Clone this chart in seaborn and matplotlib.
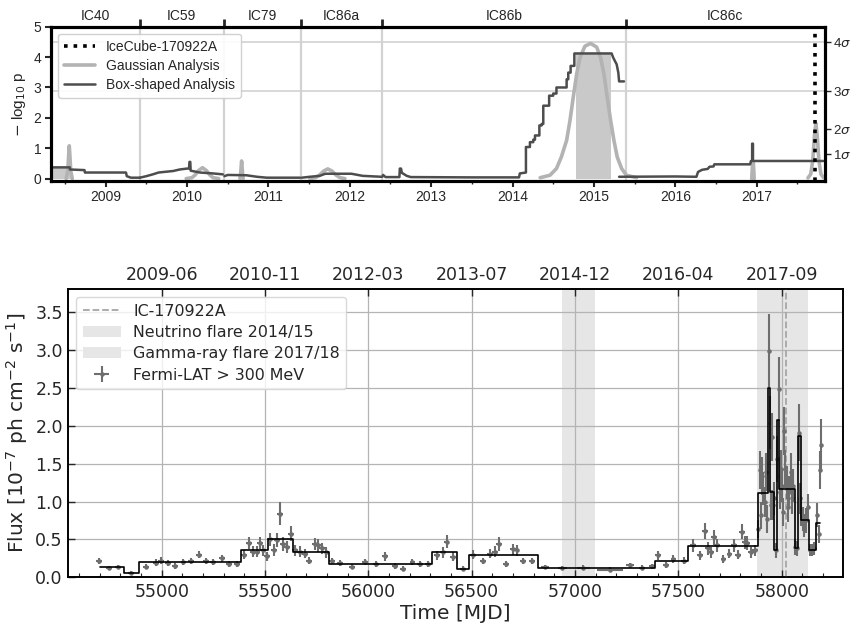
"""
Two-panel light curve: IceCube time-dependent p-values (top)
and Fermi-LAT > 300 MeV flux with Bayesian blocks (bottom).
"""
import matplotlib
matplotlib.use("Agg")
import matplotlib.pyplot as plt
from matplotlib.lines import Line2D
from matplotlib.patches import Patch
import numpy as np
import pandas as pd
import seaborn as sns

nan = np.nan

# ---------------------------------------------------------------------------
# Top panel data (time in decimal years)
# ---------------------------------------------------------------------------
season_edges = [2008.328, 2009.42, 2010.45, 2011.40, 2012.40, 2015.39, 2017.84]
season_names = ["IC40", "IC59", "IC79", "IC86a", "IC86b", "IC86c"]
year_ticks = [2009, 2010, 2011, 2012, 2013, 2014, 2015, 2016, 2017]
sigma_levels = [0.80, 1.64, 2.87, 4.50]
sigma_labels = [r"1$\sigma$", r"2$\sigma$", r"3$\sigma$", r"4$\sigma$"]
ic170922_year = 2017.722

# box-shaped analysis, one season per row, NaN breaks between seasons
box_t = [
    2008.33, 2008.56, 2008.56, 2008.74, 2008.745, 2009.25, 2009.26, 2009.31, 2009.42, nan,
    2009.42, 2009.50, 2009.58, 2009.65, 2009.72, 2009.83, 2009.91, 2010.00, 2010.025,
    2010.03, 2010.04, 2010.045, 2010.16, 2010.32, 2010.44, nan,
    2010.46, 2010.50, 2010.73, 2010.86, 2010.98, 2011.39, nan,
    2011.41, 2011.51, 2011.63, 2011.70, 2012.02, 2012.10, 2012.16, 2012.39, nan,
    2012.40, 2012.41, 2012.44, 2012.61, 2012.615, 2012.63, 2012.64, 2012.70, 2012.75,
    2013.50, 2014.08, 2014.09, 2014.165, 2014.165, 2014.214, 2014.214, 2014.255, 2014.255,
    2014.276, 2014.276, 2014.33, 2014.33, 2014.358, 2014.358, 2014.378, 2014.378,
    2014.45, 2014.45, 2014.50, 2014.50, 2014.54, 2014.54, 2014.665, 2014.665,
    2014.685, 2014.685, 2014.714, 2014.714, 2014.76, 2014.76, 2015.218, 2015.238,
    2015.28, 2015.30, 2015.31, 2015.37, nan,
    2015.31, 2016.00, 2016.26, 2016.28, 2016.33, 2016.40, 2016.42, 2016.47, 2016.48,
    2016.92, 2016.93, 2016.945, 2016.945, 2016.955, 2016.955, 2017.82,
]
box_v = [
    0.37, 0.37, 0.30, 0.28, 0.20, 0.20, 0.08, 0.03, 0.03, nan,
    0.03, 0.08, 0.14, 0.20, 0.22, 0.25, 0.30, 0.33, 0.33,
    0.55, 0.55, 0.26, 0.20, 0.17, 0.14, nan,
    0.08, 0.12, 0.11, 0.06, 0.03, 0.03, nan,
    0.03, 0.06, 0.09, 0.16, 0.16, 0.12, 0.09, 0.06, nan,
    0.06, 0.12, 0.05, 0.05, 0.33, 0.33, 0.19, 0.09, 0.05,
    0.04, 0.04, 0.17, 0.20, 1.04, 1.04, 1.20, 1.20, 1.28,
    1.28, 1.42, 1.42, 1.75, 1.75, 1.80, 1.80, 2.40,
    2.40, 2.73, 2.73, 2.80, 2.80, 3.00, 3.00, 3.27,
    3.27, 3.49, 3.49, 3.71, 3.71, 4.12, 4.12, 3.98,
    3.76, 3.49, 3.20, 3.20, nan,
    0.06, 0.07, 0.06, 0.22, 0.29, 0.32, 0.39, 0.40, 0.47,
    0.47, 0.58, 0.58, 1.15, 1.15, 0.58, 0.58,
]

# gaussian analysis, one flare curve per row
gauss_t = [
    2008.515, 2008.535, 2008.545, 2008.553, 2008.561, 2008.571, 2008.59, nan,
    2009.99, 2010.06, 2010.10, 2010.14, 2010.19, 2010.24, 2010.28, 2010.32, 2010.39, nan,
    2010.65, 2010.66, 2010.667, 2010.671, 2010.675, 2010.682, 2010.69, nan,
    2011.51, 2011.58, 2011.63, 2011.68, 2011.73, 2011.78, 2011.83, 2011.88, 2011.94, nan,
    2014.34, 2014.46, 2014.54, 2014.60, 2014.665, 2014.706, 2014.746, 2014.788, 2014.829,
    2014.89, 2014.96, 2015.034, 2015.083, 2015.124, 2015.164, 2015.206, 2015.246,
    2015.287, 2015.341, 2015.40, 2015.525, nan,
    2016.94, 2016.95, 2016.96, 2016.97, nan,
    2017.63, 2017.665, 2017.69, 2017.71, 2017.728, 2017.745, 2017.765, 2017.79, 2017.825,
]
gauss_v = [
    0.0, 0.25, 0.75, 1.08, 0.75, 0.25, 0.0, nan,
    0.0, 0.03, 0.12, 0.26, 0.36, 0.26, 0.12, 0.03, 0.0, nan,
    0.0, 0.2, 0.45, 0.58, 0.45, 0.2, 0.0, nan,
    0.0, 0.03, 0.12, 0.25, 0.32, 0.25, 0.12, 0.03, 0.0, nan,
    0.03, 0.11, 0.33, 0.71, 1.26, 1.91, 2.67, 3.44, 3.98,
    4.36, 4.45, 4.33, 3.98, 3.44, 2.67, 1.91, 1.26,
    0.71, 0.33, 0.11, 0.03, nan,
    0.0, 0.52, 0.52, 0.0, nan,
    0.02, 0.15, 0.6, 1.4, 1.82, 1.4, 0.6, 0.15, 0.02,
]

# shaded best-fit box windows
box_fill_start = [2008.33, 2014.776]
box_fill_end = [2008.57, 2015.206]
box_fill_height = [0.37, 4.12]

# ---------------------------------------------------------------------------
# Bottom panel data (time in MJD)
# ---------------------------------------------------------------------------
mjd_ticks = [55000, 55500, 56000, 56500, 57000, 57500, 58000]
date_labels = ["2009-06", "2010-11", "2012-03", "2013-07", "2014-12", "2016-04", "2017-09"]
ic170922_mjd = 58018.87
nu_flare = [56937.8, 57096.2]
gamma_flare = [57882, 58126]

fermi_mjd = [
    54698, 54745, 54787, 54851, 54925, 54972, 54995, 55029, 55064, 55105,
    55140, 55181, 55214, 55250, 55290, 55327, 55366, 55400, 55424, 55443,
    55460, 55476, 55489, 55508, 55524, 55543, 55556, 55572, 55588, 55605,
    55626, 55645, 55669, 55693, 55711, 55742, 55755, 55774, 55795, 55823,
    55863, 55919, 55984, 56037, 56081, 56129, 56169, 56213, 56250, 56290,
    56331, 56360, 56378, 56408, 56457, 56508, 56553, 56589, 56613, 56632,
    56666, 56701, 56717, 56750, 56790, 56855, 56939, 57040, 57169, 57266,
    57323, 57371, 57403, 57440, 57476, 57529, 57570, 57605, 57629, 57645,
    57657, 57673, 57686, 57718, 57747, 57769, 57787, 57807, 57823, 57834,
    57852, 57871,
    57885, 57895, 57900, 57904, 57911, 57918, 57924, 57930, 57937, 57943,
    57949, 57953, 57958, 57964, 57971, 57979, 57986, 57990, 57994, 57999,
    58003, 58008, 58013, 58018, 58025, 58031, 58037, 58044, 58050, 58056,
    58066, 58076, 58084, 58088, 58095, 58102, 58110, 58117, 58126, 58136,
    58146, 58155, 58170, 58180, 58186, 58189,
]
fermi_flux = [
    0.21, 0.12, 0.135, 0.057, 0.14, 0.195, 0.22, 0.19, 0.155, 0.20,
    0.22, 0.30, 0.21, 0.20, 0.25, 0.18, 0.17, 0.30, 0.45, 0.34,
    0.34, 0.45, 0.355, 0.28, 0.50, 0.36, 0.49, 0.84, 0.44, 0.40,
    0.575, 0.355, 0.34, 0.31, 0.22, 0.44, 0.42, 0.38, 0.33, 0.21,
    0.19, 0.14, 0.20, 0.18, 0.28, 0.145, 0.114, 0.20, 0.17, 0.18,
    0.29, 0.33, 0.47, 0.27, 0.114, 0.30, 0.21, 0.31, 0.34, 0.44,
    0.17, 0.37, 0.355, 0.22, 0.21, 0.135, 0.12, 0.127, 0.10, 0.157,
    0.127, 0.145, 0.29, 0.157, 0.245, 0.22, 0.42, 0.29, 0.61, 0.38,
    0.33, 0.53, 0.42, 0.245, 0.31, 0.42, 0.30, 0.60, 0.46, 0.455,
    0.33, 0.355,
    0.64, 1.41, 0.82, 1.34, 1.17, 0.99, 1.39, 0.77, 2.99, 2.04,
    0.95, 1.85, 0.95, 1.04, 0.355, 1.56, 2.48, 1.34, 1.12, 1.43,
    1.21, 0.86, 1.93, 1.43, 1.25, 0.925, 1.12, 1.39, 1.04, 1.21,
    0.40, 0.38, 1.91, 1.04, 0.86, 0.77, 0.68, 0.75, 0.925, 0.355,
    0.355, 0.38, 0.82, 0.575, 1.41, 1.74,
]
fermi_err = [
    0.04, 0.03, 0.03, 0.02, 0.03, 0.04, 0.05, 0.04, 0.04, 0.04,
    0.04, 0.05, 0.04, 0.04, 0.05, 0.04, 0.04, 0.06, 0.08, 0.07,
    0.07, 0.08, 0.07, 0.06, 0.09, 0.08, 0.09, 0.15, 0.09, 0.08,
    0.10, 0.07, 0.07, 0.06, 0.05, 0.08, 0.08, 0.07, 0.07, 0.04,
    0.04, 0.03, 0.04, 0.04, 0.06, 0.04, 0.03, 0.04, 0.04, 0.04,
    0.06, 0.07, 0.09, 0.06, 0.03, 0.06, 0.04, 0.06, 0.07, 0.09,
    0.04, 0.07, 0.07, 0.04, 0.04, 0.03, 0.03, 0.03, 0.03, 0.03,
    0.03, 0.03, 0.06, 0.04, 0.05, 0.05, 0.08, 0.06, 0.10, 0.08,
    0.07, 0.10, 0.08, 0.05, 0.06, 0.08, 0.06, 0.10, 0.09, 0.09,
    0.07, 0.07,
    0.12, 0.25, 0.18, 0.25, 0.22, 0.20, 0.25, 0.18, 0.48, 0.35,
    0.20, 0.32, 0.20, 0.22, 0.10, 0.30, 0.42, 0.25, 0.22, 0.25,
    0.22, 0.18, 0.32, 0.25, 0.22, 0.20, 0.22, 0.25, 0.20, 0.22,
    0.10, 0.10, 0.38, 0.20, 0.18, 0.16, 0.15, 0.16, 0.18, 0.08,
    0.08, 0.09, 0.16, 0.12, 0.25, 0.35,
]
fermi_xerr = [
    14, 14, 14, 14, 14, 14, 14, 14, 14, 14,
    14, 14, 14, 14, 14, 14, 14, 14, 14, 14,
    14, 14, 14, 14, 14, 14, 14, 14, 14, 14,
    14, 14, 14, 14, 14, 14, 14, 14, 14, 14,
    14, 14, 14, 14, 14, 14, 14, 14, 14, 14,
    14, 14, 14, 14, 14, 14, 14, 14, 14, 14,
    14, 14, 14, 14, 14, 20, 20, 30, 65, 20,
    14, 14, 14, 14, 14, 14, 14, 14, 14, 14,
    14, 14, 14, 14, 14, 14, 14, 14, 14, 14,
    14, 14,
    3.5, 3.5, 3.5, 3.5, 3.5, 3.5, 3.5, 3.5, 3.5, 3.5,
    3.5, 3.5, 3.5, 3.5, 3.5, 3.5, 3.5, 3.5, 3.5, 3.5,
    3.5, 3.5, 3.5, 3.5, 3.5, 3.5, 3.5, 3.5, 3.5, 3.5,
    3.5, 3.5, 3.5, 3.5, 3.5, 3.5, 3.5, 3.5, 3.5, 3.5,
    3.5, 3.5, 3.5, 3.5, 3.5, 3.5,
]

# Bayesian blocks
block_edges = [
    54701, 54818, 54892, 55382, 55516, 55637, 55811, 56307, 56428, 56487,
    56822, 57387, 57548, 57887, 57935, 57944, 57964, 57976, 57987, 58065,
    58081, 58092, 58133, 58166, 58185,
]
block_flux = [
    0.13, 0.057, 0.20, 0.355, 0.51, 0.34, 0.18, 0.33, 0.114, 0.29,
    0.127, 0.22, 0.41, 1.11, 2.50, 1.13, 0.355, 2.07, 1.17, 0.38,
    1.86, 0.76, 0.355, 0.71,
]

# ---------------------------------------------------------------------------
# Style
# ---------------------------------------------------------------------------
sns.set_style("ticks")
plt.rcParams["font.family"] = ["DejaVu Sans"]
TOP_FONT = ["Liberation Sans", "DejaVu Sans"]

BOX_COLOR = "#4d4d4d"
GAUSS_COLOR = "#b3b3b3"
SEASON_COLOR = "#d2d2d2"
FILL_COLOR = "#c9c9c9"
POINT_COLOR = "#6e6e6e"
FLARE_COLOR = "#e6e6e6"
GRID_COLOR = "#b4b4b4"


def _segments(t, v):
    df = pd.DataFrame({"t": t, "v": v})
    df["seg"] = df["t"].isna().cumsum()
    return df.dropna()


fig = plt.figure(figsize=(8.55, 6.26), dpi=100)
ax1 = fig.add_axes([0.0596, 0.7113, 0.9053, 0.2460])
ax2 = fig.add_axes([0.0799, 0.0778, 0.9064, 0.4601])

# ---------------------------------------------------------------------------
# Top panel
# ---------------------------------------------------------------------------
for x in season_edges[1:-1]:
    ax1.axvline(x, color=SEASON_COLOR, lw=1.6, zorder=1)
for lvl in sigma_levels[2:]:
    ax1.axhline(lvl, color=SEASON_COLOR, lw=1.2, zorder=1)

for x0, x1, h in zip(box_fill_start, box_fill_end, box_fill_height):
    ax1.fill_between([x0, x1], 0, h, color=FILL_COLOR, lw=0, zorder=2)

sns.lineplot(data=_segments(gauss_t, gauss_v), x="t", y="v", units="seg",
             estimator=None, sort=False, color=GAUSS_COLOR, linewidth=2.6,
             legend=False, ax=ax1, zorder=3)
sns.lineplot(data=_segments(box_t, box_v), x="t", y="v", units="seg",
             estimator=None, sort=False, color=BOX_COLOR, linewidth=1.8,
             legend=False, ax=ax1, zorder=4)
ax1.axvline(ic170922_year, color="black", ls=":", lw=2.6, zorder=5)

ax1.set_xlim(season_edges[0], season_edges[-1])
ax1.set_ylim(-0.07, 4.96)
ax1.set_xlabel("")
ax1.set_ylabel(r"$-$ log$_{10}$ p", fontsize=11, fontfamily=TOP_FONT)
ax1.set_xticks(year_ticks, [str(y) for y in year_ticks], fontfamily=TOP_FONT)
ax1.set_xticks(np.arange(2008.5, 2018, 1.0), minor=True)
ax1.set_yticks([0, 1, 2, 3, 4, 5], ["0", "1", "2", "3", "4", "5"], fontfamily=TOP_FONT)
ax1.tick_params(axis="both", which="major", direction="out", length=4, width=1.5,
                labelsize=10, pad=3)
ax1.tick_params(axis="x", which="minor", direction="out", length=2.5, width=1)

ax1r = ax1.twinx()
ax1r.set_ylim(ax1.get_ylim())
ax1r.set_yticks(sigma_levels, sigma_labels, fontfamily=TOP_FONT)
ax1r.tick_params(axis="y", direction="out", length=4, width=1, labelsize=9.5, pad=2)

ax1t = ax1.twiny()
ax1t.set_xlim(ax1.get_xlim())
ax1t.set_xticks(season_edges[1:-1], [""] * (len(season_edges) - 2))
season_mid = [(a + b) / 2 for a, b in zip(season_edges[:-1], season_edges[1:])]
ax1t.set_xticks(season_mid, season_names, minor=True, fontfamily=TOP_FONT)
ax1t.tick_params(axis="x", which="major", direction="out", length=6, width=2)
ax1t.tick_params(axis="x", which="minor", length=0, labelsize=10, pad=3)

for a in (ax1, ax1r, ax1t):
    for sp in a.spines.values():
        sp.set_linewidth(2.2)
        sp.set_color("black")

top_handles = [
    Line2D([], [], color="black", ls=":", lw=2.6),
    Line2D([], [], color=GAUSS_COLOR, lw=2.6),
    Line2D([], [], color=BOX_COLOR, lw=1.8),
]
leg1 = ax1.legend(top_handles, ["IceCube-170922A", "Gaussian Analysis", "Box-shaped Analysis"],
                  loc="upper left", prop={"family": TOP_FONT, "size": 10},
                  frameon=True, framealpha=0.9, edgecolor="#cccccc",
                  handlelength=2.2, labelspacing=0.35, borderpad=0.45)

# ---------------------------------------------------------------------------
# Bottom panel
# ---------------------------------------------------------------------------
ic_line = ax2.axvline(ic170922_mjd, color="#a6a6a6", ls="--", lw=1.3, zorder=3)
nu_span = ax2.axvspan(nu_flare[0], nu_flare[1], color=FLARE_COLOR, lw=0, zorder=0)
gam_span = ax2.axvspan(gamma_flare[0], gamma_flare[1], color=FLARE_COLOR, lw=0, zorder=0)

eb = ax2.errorbar(fermi_mjd, fermi_flux, yerr=fermi_err, xerr=fermi_xerr, fmt=".",
                  color=POINT_COLOR, ms=4.5, elinewidth=1.5, capsize=0, zorder=4)
sns.lineplot(x=block_edges, y=block_flux + [block_flux[-1]], estimator=None,
             drawstyle="steps-post", color="black", linewidth=1.2, ax=ax2, zorder=5)

ax2.set_axisbelow(True)
ax2.grid(True, which="major", color=GRID_COLOR, lw=0.9)
ax2.set_xlim(54548, 58298)
ax2.set_ylim(0, 3.8)
ax2.set_xticks(mjd_ticks, [str(m) for m in mjd_ticks])
ax2.set_xticks(np.arange(54600, 58300, 100), minor=True)
ax2.set_yticks([0, 0.5, 1.0, 1.5, 2.0, 2.5, 3.0, 3.5],
               ["0.0", "0.5", "1.0", "1.5", "2.0", "2.5", "3.0", "3.5"])
ax2.tick_params(axis="both", which="major", direction="in", length=5, width=1,
                labelsize=12.5, pad=4)
ax2.tick_params(axis="x", which="minor", direction="in", length=3, width=0.8)
ax2.set_xlabel("Time [MJD]", fontsize=14.5, labelpad=2)
ax2.set_ylabel(r"Flux [$10^{-7}$ ph cm$^{-2}$ s$^{-1}$]", fontsize=14.5, labelpad=4)

ax2t = ax2.twiny()
ax2t.set_xlim(ax2.get_xlim())
ax2t.set_xticks(mjd_ticks, date_labels)
ax2t.tick_params(axis="x", direction="in", length=5, width=1, labelsize=12.5, pad=4)

for a in (ax2, ax2t):
    for sp in a.spines.values():
        sp.set_linewidth(1.2)
        sp.set_color("black")

bottom_handles = [
    Line2D([], [], color="#a6a6a6", ls="--", lw=1.3),
    Patch(facecolor=FLARE_COLOR, edgecolor="none"),
    Patch(facecolor=FLARE_COLOR, edgecolor="none"),
    eb,
]
ax2.legend(bottom_handles,
           ["IC-170922A", "Neutrino flare 2014/15", "Gamma-ray flare 2017/18",
            "Fermi-LAT > 300 MeV"],
           loc="upper left", fontsize=11.4, frameon=True, framealpha=0.8,
           edgecolor="#d0d0d0", labelspacing=0.4, borderpad=0.4, handlelength=2.4)

fig.savefig("out.png", dpi=100)
